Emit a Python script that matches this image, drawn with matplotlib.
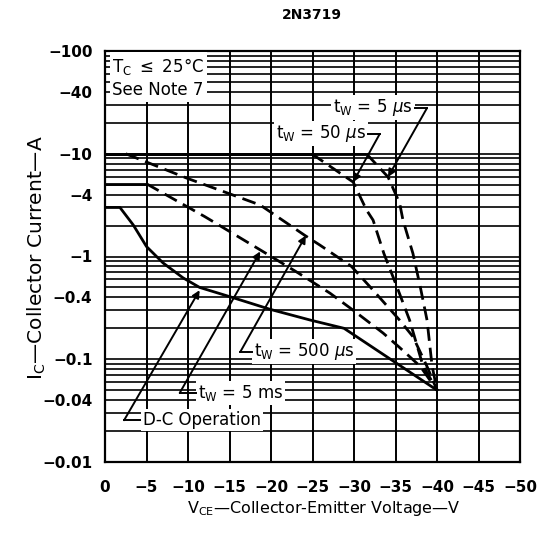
import matplotlib
matplotlib.use('Agg')
import matplotlib.pyplot as plt
from matplotlib.ticker import FixedLocator, FixedFormatter, LogLocator, NullFormatter

plt.rcParams['font.family'] = ['DejaVu Sans']
plt.rcParams['mathtext.fontset'] = 'custom'
plt.rcParams['mathtext.rm'] = 'DejaVu Sans'
plt.rcParams['mathtext.it'] = 'DejaVu Sans:italic'
plt.rcParams['mathtext.bf'] = 'DejaVu Sans:bold'

# ---- data (magnitudes; the device voltages/currents are negative) ----
vce_5us = [0, 31.5, 34.1, 35.5, 35.9, 37.1, 38.0, 38.8, 39.4, 40]
ic_5us = [10, 10, 5.94, 3.3, 2.26, 1.07, 0.50, 0.24, 0.087, 0.05]

vce_50us = [0, 24.9, 29.9, 31.5, 32.3, 33.6, 35.2, 36.7, 38.3, 40]
ic_50us = [10, 10, 5.3, 2.84, 2.26, 1.07, 0.50, 0.24, 0.087, 0.05]

vce_500us = [0, 2.5, 9.9, 18.7, 24.1, 25.9, 29.7, 32.3, 35.5, 37.1, 38.8, 40]
ic_500us = [10, 10, 5.77, 3.17, 1.6, 1.29, 0.80, 0.47, 0.24, 0.166, 0.085, 0.05]

vce_5ms = [0, 5, 12, 18.7, 23.3, 27.1, 29.9, 33.5, 35.5, 38.0, 40]
ic_5ms = [5.1, 5.1, 2.45, 1.16, 0.69, 0.44, 0.30, 0.18, 0.13, 0.085, 0.05]

vce_dc = [0, 1.8, 3.4, 5, 7, 9.4, 11.4, 15.1, 19.9, 24.7, 28.8, 40]
ic_dc = [3, 3, 2.03, 1.25, 0.865, 0.62, 0.50, 0.405, 0.306, 0.241, 0.2, 0.05]

x_ticks = [0, 5, 10, 15, 20, 25, 30, 35, 40, 45, 50]
x_ticklabels = ['0', '\u22125', '\u221210', '\u221215', '\u221220', '\u221225',
                '\u221230', '\u221235', '\u221240', '\u221245', '\u221250']
y_ticks = [0.01, 0.04, 0.1, 0.4, 1, 4, 10, 40, 100]
y_ticklabels = ['\u22120.01', '\u22120.04', '\u22120.1', '\u22120.4', '\u22121',
                '\u22124', '\u221210', '\u221240', '\u2212100']

fig = plt.figure(figsize=(5.43, 5.36), dpi=100)
ax = fig.add_axes([105/543, 74/536, 415/543, 411/536])
ax.set_yscale('log')
ax.set_xlim(0, 50)
ax.set_ylim(0.01, 100)

ax.xaxis.set_major_locator(FixedLocator(x_ticks))
ax.xaxis.set_major_formatter(FixedFormatter(x_ticklabels))
ax.yaxis.set_major_locator(FixedLocator(y_ticks))
ax.yaxis.set_major_formatter(FixedFormatter(y_ticklabels))
ax.yaxis.set_minor_locator(LogLocator(base=10, subs=range(1, 10)))
ax.yaxis.set_minor_formatter(NullFormatter())
ax.tick_params(which='both', length=0)
ax.tick_params(axis='y', pad=9, labelsize=11)
ax.tick_params(axis='x', pad=13, labelsize=11)
for t in ax.get_xticklabels() + ax.get_yticklabels():
    t.set_fontweight('bold')

ax.grid(True, which='major', axis='x', color='k', lw=1.4)
ax.grid(True, which='both', axis='y', color='k', lw=1.2)
ax.set_axisbelow(True)
for s in ax.spines.values():
    s.set_linewidth(1.6)

dash = (0, (5, 2.5))
for xs, ys in [(vce_5us, ic_5us), (vce_50us, ic_50us), (vce_500us, ic_500us),
               (vce_5ms, ic_5ms)]:
    ax.plot(xs[:2], ys[:2], color='k', lw=2.0, ls='-', solid_capstyle='butt')
    ax.plot(xs[1:], ys[1:], color='k', lw=2.0, ls=dash)
ax.plot(vce_dc, ic_dc, color='k', lw=2.0, ls='-')

# ---- annotations: (text, text pos, align, hook start, bend, arrow tip) ----
notes = [
    (r'$\mathrm{t_W}$ = 5 $\mathit{\mu}$s', (37.1, 27.9), 'right', (37.4, 27.9), (38.8, 27.9), (34.1, 5.94)),
    (r'$\mathrm{t_W}$ = 50 $\mathit{\mu}$s', (31.4, 15.6), 'right', (31.7, 15.6), (33.1, 15.6), (29.9, 5.3)),
    (r'$\mathrm{t_W}$ = 500 $\mathit{\mu}$s', (17.9, 0.118), 'left', (17.7, 0.118), (16.3, 0.118), (24.2, 1.6)),
    (r'$\mathrm{t_W}$ = 5 ms', (11.2, 0.047), 'left', (11.0, 0.047), (9.0, 0.047), (18.7, 1.12)),
    ('D-C Operation', (4.6, 0.0255), 'left', (4.2, 0.0255), (2.3, 0.0255), (11.4, 0.47)),
]
for txt, pos, ha, h0, bend, tip in notes:
    ax.text(pos[0], pos[1], txt, ha=ha, va='center', fontsize=12,
            bbox=dict(facecolor='white', edgecolor='none', pad=1.5), zorder=5)
    ax.plot([h0[0], bend[0]], [h0[1], bend[1]], color='k', lw=1.4, zorder=6)
    ax.annotate('', xy=tip, xytext=bend,
                arrowprops=dict(arrowstyle='-|>', color='k', lw=1.4,
                                mutation_scale=11, shrinkA=0, shrinkB=0),
                zorder=6)

ax.text(0.018, 0.988, r'$\mathrm{T_C}$ $\leq$ 25°C' + '\nSee Note 7',
        transform=ax.transAxes, ha='left', va='top', fontsize=12,
        linespacing=1.3,
        bbox=dict(facecolor='white', edgecolor='none', pad=2), zorder=5)

fig.text(312/543, 1 - 15/536, '2N3719', ha='center', va='center',
         fontsize=10, fontweight='bold')
fig.text(324/543, 1 - 508/536, r'$\mathrm{V_{CE}}$—Collector-Emitter Voltage—V',
         ha='center', va='center', fontsize=11.5)
fig.text(37/543, 1 - 258/536, r'$\mathrm{I_C}$—Collector Current—A',
         ha='center', va='center', fontsize=14.5, rotation=90)

fig.savefig('out.png', dpi=100)
